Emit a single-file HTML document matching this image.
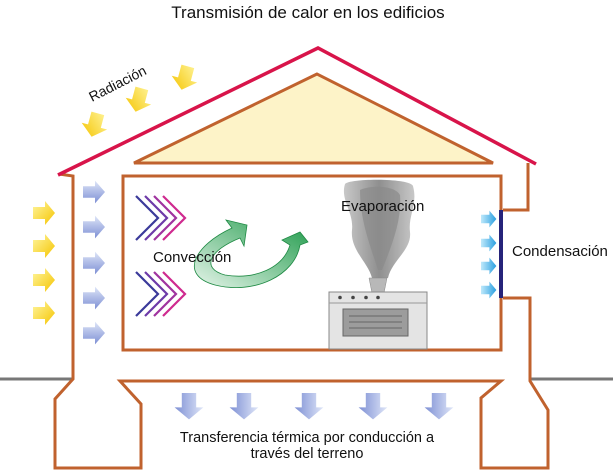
<!DOCTYPE html>
<html><head><meta charset="utf-8"><style>
html,body{margin:0;padding:0;background:#fff;}
svg{display:block;font-family:"Liberation Sans",sans-serif;}
</style></head><body>
<svg width="613" height="472" viewBox="0 0 613 472" xmlns="http://www.w3.org/2000/svg">
<defs>
<linearGradient id="yel" x1="0" y1="0" x2="1" y2="1"><stop offset="0" stop-color="#fff6a0"/><stop offset="1" stop-color="#f5c400"/></linearGradient>
<linearGradient id="blu" x1="0" y1="0" x2="0" y2="1"><stop offset="0" stop-color="#dfe6f8"/><stop offset="1" stop-color="#7d8fd4"/></linearGradient>
<linearGradient id="cy" x1="0" y1="0" x2="1" y2="0"><stop offset="0" stop-color="#bfe9fb"/><stop offset="1" stop-color="#2a9fe0"/></linearGradient>
<linearGradient id="grn" x1="0" y1="1" x2="1" y2="0"><stop offset="0" stop-color="#e6f5ea"/><stop offset="1" stop-color="#1f9a4a"/></linearGradient>
<linearGradient id="smk" x1="0" y1="0" x2="1" y2="0"><stop offset="0" stop-color="#c8c8c8"/><stop offset=".5" stop-color="#8f8f8f"/><stop offset="1" stop-color="#c8c8c8"/></linearGradient>
<g id="ar"><path d="M-10,-6 L2,-6 L2,-12 L12,0 L2,12 L2,6 L-10,6 Z"/></g>
<g id="chev" fill="none" stroke-width="2.2">
<path d="M0,0 L22,22 L0,44" stroke="#3b3a9a"/>
<path d="M9,0 L31,22 L9,44" stroke="#6d3aa8"/>
<path d="M18,0 L40,22 L18,44" stroke="#a0339f"/>
<path d="M27,0 L49,22 L27,44" stroke="#cf2a8f"/>
</g>
</defs>
<text x="308" y="18" font-size="17" text-anchor="middle" fill="#111">Transmisión de calor en los edificios</text>
<text x="92" y="102" font-size="14" fill="#111" transform="rotate(-27 92 102)">Radiación</text>
<!-- ground -->
<line x1="0" y1="379" x2="72" y2="379" stroke="#777" stroke-width="3"/>
<line x1="531" y1="379" x2="613" y2="379" stroke="#777" stroke-width="3"/>
<!-- attic -->
<polygon points="317,74 134,163 493,163" fill="#fdf3c8" stroke="#c0622e" stroke-width="3"/>
<!-- walls -->
<g fill="none" stroke="#c0622e" stroke-width="3" stroke-linejoin="miter">
<polyline points="59,174 73,176 73,379 55,399 55,468 141,468 141,404 120,381 501,381 481,398 481,468 548,468 548,410 530,381 530,298 503,298"/>
<polyline points="528,163 528,210 503,210"/>
<rect x="123" y="176" width="378" height="174"/>
</g>
<line x1="501" y1="210" x2="501" y2="298" stroke="#26237a" stroke-width="4"/>
<!-- roof -->
<polyline points="58,175 318,48 536,164" fill="none" stroke="#d8144a" stroke-width="3.5"/>
<!-- radiation arrows -->
<g fill="url(#yel)">
<use href="#ar" transform="translate(95,124) rotate(105) scale(1.1)"/>
<use href="#ar" transform="translate(139,99) rotate(105) scale(1.1)"/>
<use href="#ar" transform="translate(185,77) rotate(105) scale(1.1)"/>
<use href="#ar" transform="translate(43,213)"/>
<use href="#ar" transform="translate(43,246)"/>
<use href="#ar" transform="translate(43,280)"/>
<use href="#ar" transform="translate(43,313)"/>
</g>
<g fill="url(#blu)">
<use href="#ar" transform="translate(93,192) scale(1,.95)"/>
<use href="#ar" transform="translate(93,227) scale(1,.95)"/>
<use href="#ar" transform="translate(93,263) scale(1,.95)"/>
<use href="#ar" transform="translate(93,298) scale(1,.95)"/>
<use href="#ar" transform="translate(93,333) scale(1,.95)"/>
<use href="#ar" transform="translate(189,405) rotate(90) scale(1.2)"/>
<use href="#ar" transform="translate(244,405) rotate(90) scale(1.2)"/>
<use href="#ar" transform="translate(309,405) rotate(90) scale(1.2)"/>
<use href="#ar" transform="translate(373,405) rotate(90) scale(1.2)"/>
<use href="#ar" transform="translate(439,405) rotate(90) scale(1.2)"/>
</g>
<g fill="url(#cy)">
<use href="#ar" transform="translate(488,219) scale(.7)"/>
<use href="#ar" transform="translate(488,243) scale(.7)"/>
<use href="#ar" transform="translate(488,266) scale(.7)"/>
<use href="#ar" transform="translate(488,290) scale(.7)"/>
</g>
<!-- chevrons -->
<use href="#chev" transform="translate(136,196)"/>
<use href="#chev" transform="translate(136,272)"/>
<!-- green convection arrow -->
<path d="M232,228 C195,245 178,275 215,285 C255,295 295,275 300,245 L308,242 L300,232 L282,240 L290,245 C283,268 255,280 225,275 C200,268 210,250 240,238 L244,246 L247,225 L226,220 L232,228 Z" fill="url(#grn)" stroke="#1f8a44" stroke-width="0.8"/>
<text x="153" y="262" font-size="15" fill="#111">Convección</text>
<!-- smoke -->
<path d="M345,184 C350,178 410,178 413,186 C418,205 408,215 410,232 C412,250 392,260 388,278 L372,278 C368,262 350,250 352,230 C354,212 340,200 345,184 Z" fill="url(#smk)"/>
<path d="M360,190 C370,185 395,185 400,195 C402,220 392,245 382,270 L378,270 C370,245 360,220 360,190 Z" fill="#8a8a8a" opacity=".7"/>
<polygon points="369,278 387,278 384,293 372,293" fill="#b8b8b8" stroke="#888" stroke-width=".5"/>
<text x="341" y="211" font-size="15" fill="#111">Evaporación</text>
<!-- stove -->
<rect x="329" y="292" width="98" height="57" fill="#e4e4e4" stroke="#888" stroke-width="1"/>
<line x1="329" y1="303" x2="427" y2="303" stroke="#999"/>
<g fill="#444"><circle cx="340" cy="297.5" r="1.8"/><circle cx="353" cy="297.5" r="1.8"/><circle cx="366" cy="297.5" r="1.8"/><circle cx="378" cy="297.5" r="1.8"/></g>
<rect x="343" y="309" width="65" height="27" fill="#9c9c9c" stroke="#666"/>
<g stroke="#666"><line x1="349" y1="316" x2="402" y2="316"/><line x1="349" y1="322" x2="402" y2="322"/><line x1="349" y1="328" x2="402" y2="328"/></g>
<text x="512" y="256" font-size="15" fill="#111">Condensación</text>
<text x="307" y="442" font-size="14.5" text-anchor="middle" fill="#111">Transferencia térmica por conducción a</text>
<text x="307" y="458" font-size="14.5" text-anchor="middle" fill="#111">través del terreno</text>
</svg>
</body></html>
